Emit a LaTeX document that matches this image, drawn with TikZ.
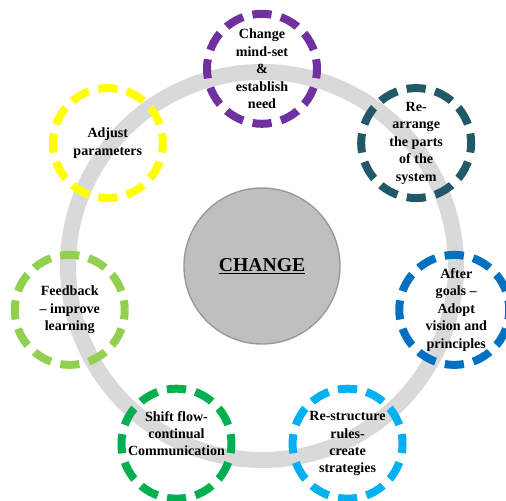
\documentclass[tikz,border=0pt]{standalone}
\usepackage{fontspec}
\setmainfont{Liberation Serif}
\usepackage{xcolor}
\usepackage{tikz}

\definecolor{cpurple}{HTML}{7030A0}
\definecolor{cteal}{RGB}{33,89,103}
\definecolor{cblue}{HTML}{0070C0}
\definecolor{clightblue}{HTML}{00B0F0}
\definecolor{cgreen}{HTML}{00B050}
\definecolor{clightgreen}{HTML}{92D050}
\definecolor{cyellow}{HTML}{FFFF00}

\begin{document}
\begin{tikzpicture}[
        stagecircle/.style={circle, minimum size=2.75cm, inner sep=0pt,
            line width=0.2cm, dash pattern=on 0.48cm off 0.24cm, dash phase=0.24cm},
        stagetext/.style={align=center, inner sep=0pt,
            font=\fontsize{10}{12.4}\selectfont\bfseries}
    ]
        \useasboundingbox (-6.55,-5.85) rectangle (6.1,6.65);

        % the grey ring the stages sit on
        \draw[black!15, line width=0.4cm] (0,0) circle (4.85cm);

        % centre
        \node[circle, minimum size=3.9cm, fill=black!25, draw=black!40, line width=1pt,
            font=\fontsize{14}{16}\selectfont\bfseries] (change) at (0,0) {\underline{CHANGE}};

        % stages, one every 360/7 degrees
        \node[stagecircle, draw=cpurple] (s1) at (90:4.93) {};
        \node[stagecircle, draw=cteal] (s2) at (38.57:4.93) {};
        \node[stagecircle, draw=cblue] (s3) at (-12.86:4.93) {};
        \node[stagecircle, draw=clightblue] (s4) at (-64.29:4.93) {};
        \node[stagecircle, draw=cgreen] (s5) at (-115.71:4.93) {};
        \node[stagecircle, draw=clightgreen] (s6) at (-167.14:4.93) {};
        \node[stagecircle, draw=cyellow] (s7) at (141.43:4.93) {};

        \node[stagetext] (t1) at (s1) {Change\\mind-set\\\&\\establish\\need};
        \node[stagetext] (t2) at (s2) {Re-\\arrange\\the parts\\of the\\system};
        \node[stagetext] (t3) at ([xshift=0.05cm]s3) {After\\goals --\\Adopt\\vision and\\principles};
        \node[stagetext] (t4) at (s4) {Re-structure\\rules-\\create\\strategies};
        \node[stagetext] (t5) at ([yshift=0.25cm]s5) {Shift flow-\\continual\\Communication};
        \node[stagetext] (t6) at (s6) {Feedback\\-- improve\\learning};
        \node[stagetext] (t7) at (s7) {Adjust\\parameters};
    \end{tikzpicture}
\end{document}
